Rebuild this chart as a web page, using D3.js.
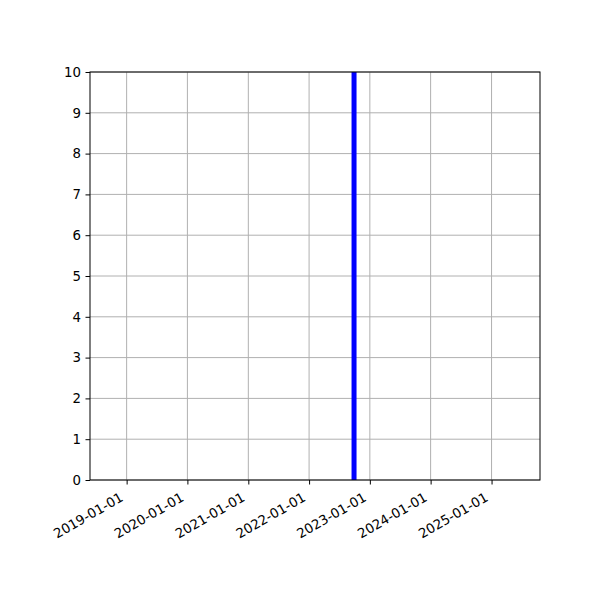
<!DOCTYPE html>
<html>
<head>
<meta charset="utf-8">
<script src="https://cdn.jsdelivr.net/npm/d3@7"></script>
<style>
  body { margin: 0; background: #fff; }
  text { font-family: "DejaVu Sans", sans-serif; }
</style>
</head>
<body>
<div id="chart"></div>
<script>
// data
const xDomain = ["2018-05-26", "2025-10-19"];
const xTickDates = ["2019-01-01", "2020-01-01", "2021-01-01", "2022-01-01", "2023-01-01", "2024-01-01", "2025-01-01"];
const yTicks = [0, 1, 2, 3, 4, 5, 6, 7, 8, 9, 10];
const lineDates = ["2022-09-28"];
const lineRange = [0, 10];

const width = 600, height = 600;
const margin = { top: 72, right: 60, bottom: 120, left: 90 };
const parse = d3.utcParse("%Y-%m-%d");
const fmt = d3.utcFormat("%Y-%m-%d");

const svg = d3.select("#chart")
  .append("svg")
  .attr("width", width)
  .attr("height", height);

const x = d3.scaleUtc()
  .domain(xDomain.map(parse))
  .range([margin.left, width - margin.right]);

const y = d3.scaleLinear()
  .domain([0, 10])
  .range([height - margin.bottom, margin.top]);

// grid
svg.append("g")
  .selectAll("line")
  .data(xTickDates.map(parse))
  .enter()
  .append("line")
  .attr("x1", d => x(d)).attr("x2", d => x(d))
  .attr("y1", y(0)).attr("y2", y(10))
  .attr("stroke", "#b0b0b0")
  .attr("stroke-width", 1);

svg.append("g")
  .selectAll("line")
  .data(yTicks)
  .enter()
  .append("line")
  .attr("x1", x.range()[0]).attr("x2", x.range()[1])
  .attr("y1", d => y(d)).attr("y2", d => y(d))
  .attr("stroke", "#b0b0b0")
  .attr("stroke-width", 1);

// vertical line
svg.append("g")
  .selectAll("line")
  .data(lineDates.map(parse))
  .enter()
  .append("line")
  .attr("x1", d => x(d)).attr("x2", d => x(d))
  .attr("y1", y(lineRange[0])).attr("y2", y(lineRange[1]))
  .attr("stroke", "#0000ff")
  .attr("stroke-width", 5);

// axes
const xAxis = svg.append("g")
  .attr("transform", `translate(0, ${y(0)})`)
  .call(d3.axisBottom(x)
    .tickValues(xTickDates.map(parse))
    .tickFormat(fmt)
    .tickSize(4.5)
    .tickSizeOuter(0));

xAxis.selectAll("text")
  .style("font-size", "13.33px")
  .attr("fill", "#000")
  .attr("text-anchor", "end")
  .attr("dy", null)
  .attr("y", 0)
  .attr("transform", "translate(-3, 20) rotate(-30)");

const yAxis = svg.append("g")
  .attr("transform", `translate(${margin.left}, 0)`)
  .call(d3.axisLeft(y)
    .tickValues(yTicks)
    .tickSize(4.5)
    .tickSizeOuter(0));

yAxis.selectAll("text")
  .style("font-size", "13.33px")
  .attr("fill", "#000")
  .attr("x", -9);

svg.selectAll(".domain").remove();
svg.selectAll(".tick line").attr("stroke", "#000").attr("stroke-width", 1);

// frame
svg.append("rect")
  .attr("x", margin.left)
  .attr("y", margin.top)
  .attr("width", width - margin.left - margin.right)
  .attr("height", height - margin.top - margin.bottom)
  .attr("fill", "none")
  .attr("stroke", "#000")
  .attr("stroke-width", 1);
</script>
</body>
</html>
